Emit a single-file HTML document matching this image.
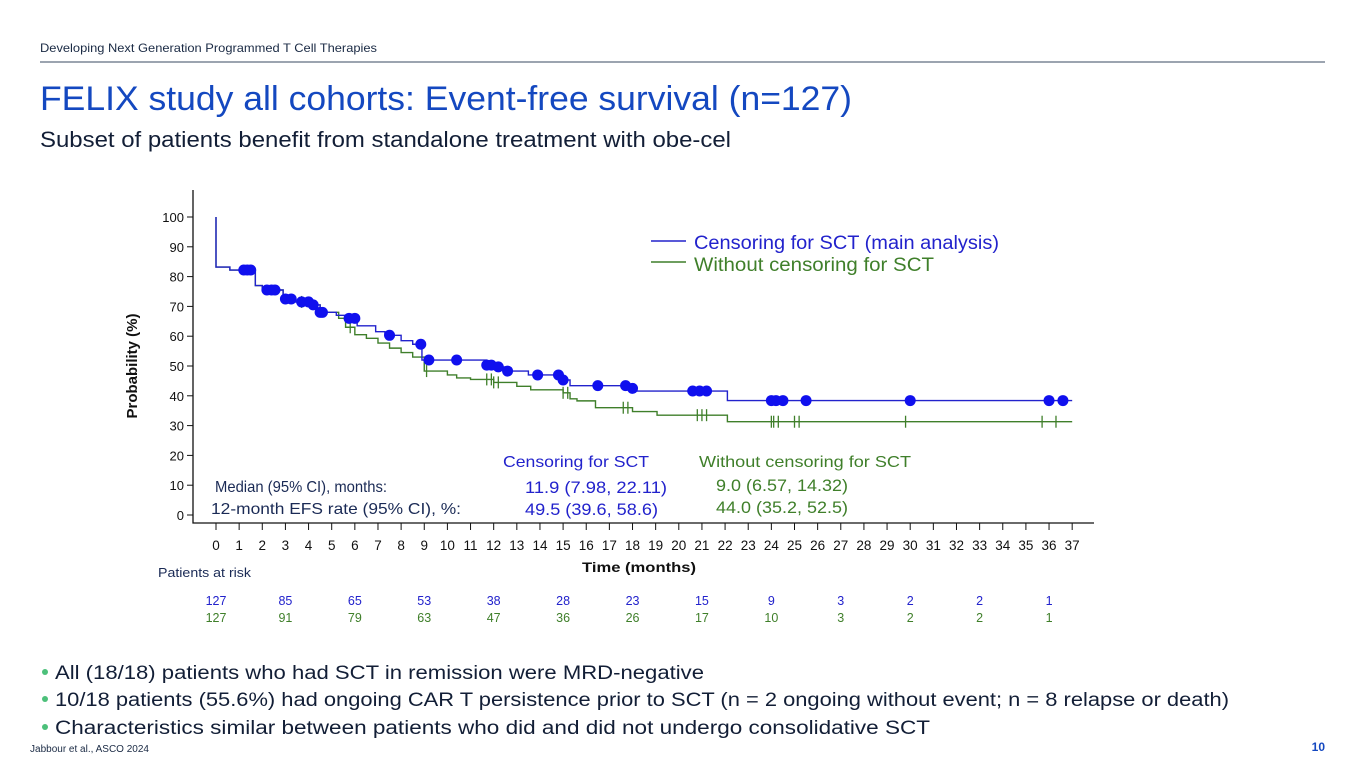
<!DOCTYPE html>
<html><head><meta charset="utf-8"><style>
html,body{margin:0;padding:0;background:#fff;}
svg{display:block;font-family:"Liberation Sans",sans-serif;}
</style></head><body>
<svg id="page" width="1365" height="768" viewBox="0 0 1365 768" xmlns="http://www.w3.org/2000/svg">
<text x="40" y="52" font-size="12" fill="#1a2a44" textLength="337" lengthAdjust="spacingAndGlyphs">Developing Next Generation Programmed T Cell Therapies</text>
<line x1="40" y1="62" x2="1325" y2="62" stroke="#3a4a60" stroke-width="1"/>
<text x="40" y="110" font-size="34" fill="#1448c0" textLength="812" lengthAdjust="spacingAndGlyphs">FELIX study all cohorts: Event-free survival (n=127)</text>
<text x="40" y="147" font-size="22" fill="#121e36" textLength="691" lengthAdjust="spacingAndGlyphs">Subset of patients benefit from standalone treatment with obe-cel</text>

<g id="chart"></g>

<text x="503" y="467" font-size="16" fill="#2222cc" textLength="146" lengthAdjust="spacingAndGlyphs">Censoring for SCT</text>
<text x="699" y="467" font-size="16" fill="#3f7f2a" textLength="212" lengthAdjust="spacingAndGlyphs">Without censoring for SCT</text>
<text x="215" y="492" font-size="16" fill="#1a2a55" textLength="172" lengthAdjust="spacingAndGlyphs">Median (95% CI), months:</text>
<text x="211" y="514" font-size="16" fill="#1a2a55" textLength="250" lengthAdjust="spacingAndGlyphs">12-month EFS rate (95% CI), %:</text>
<text x="525" y="493" font-size="17" fill="#2222cc" textLength="142" lengthAdjust="spacingAndGlyphs">11.9 (7.98, 22.11)</text>
<text x="525" y="515" font-size="17" fill="#2222cc" textLength="133" lengthAdjust="spacingAndGlyphs">49.5 (39.6, 58.6)</text>
<text x="716" y="491" font-size="17" fill="#3f7f2a" textLength="132" lengthAdjust="spacingAndGlyphs">9.0 (6.57, 14.32)</text>
<text x="716" y="513" font-size="17" fill="#3f7f2a" textLength="132" lengthAdjust="spacingAndGlyphs">44.0 (35.2, 52.5)</text>

<line x1="651" y1="241" x2="686" y2="241" stroke="#2222cc" stroke-width="1.5"/>
<text x="694" y="249" font-size="19" fill="#2222cc" textLength="305" lengthAdjust="spacingAndGlyphs">Censoring for SCT (main analysis)</text>
<line x1="651" y1="262" x2="686" y2="262" stroke="#3f7f2a" stroke-width="1.5"/>
<text x="694" y="271" font-size="19" fill="#3f7f2a" textLength="240" lengthAdjust="spacingAndGlyphs">Without censoring for SCT</text>

<text x="582" y="572" font-size="14" font-weight="bold" fill="#111" textLength="114" lengthAdjust="spacingAndGlyphs">Time (months)</text>
<text transform="translate(137,366) rotate(-90)" text-anchor="middle" font-size="15" font-weight="bold" fill="#111">Probability (%)</text>
<text x="158" y="577" font-size="12.5" fill="#1a2a55" textLength="93" lengthAdjust="spacingAndGlyphs">Patients at risk</text>

<g fill="#4cc07a">
<circle cx="45" cy="672" r="3"/><circle cx="45" cy="699" r="3"/><circle cx="45" cy="727" r="3"/></g>
<text x="55" y="679" font-size="19" fill="#121e36" textLength="649" lengthAdjust="spacingAndGlyphs">All (18/18) patients who had SCT in remission were MRD-negative</text>
<text x="55" y="706" font-size="19" fill="#121e36" textLength="1174" lengthAdjust="spacingAndGlyphs">10/18 patients (55.6%) had ongoing CAR T persistence prior to SCT (n = 2 ongoing without event; n = 8 relapse or death)</text>
<text x="55" y="734" font-size="19" fill="#121e36" textLength="875" lengthAdjust="spacingAndGlyphs">Characteristics similar between patients who did and did not undergo consolidative SCT</text>
<text x="30" y="752" font-size="10" fill="#1a2a44" textLength="119" lengthAdjust="spacingAndGlyphs">Jabbour et al., ASCO 2024</text>
<text x="1325" y="751" font-size="12" font-weight="bold" fill="#1448c0" text-anchor="end">10</text>
</svg>
<script>
const blueT=[0,0,0.6,1.7,2.0,2.9,3.3,4.2,4.5,5.2,5.6,6.1,6.9,7.3,8.0,8.5,8.9,11.7,12.0,12.5,13.5,15.0,15.3,17.8,18.1,22.1,37];
const blueS=[100,83.2,82.2,77,75.5,72.5,71.5,70.5,68,67,66,63.5,61.5,60.3,58.5,57.3,52,50.3,49.7,48.3,47,45.3,43.4,42.5,41.6,38.4,38.4];
const blueCens=[1.2,1.35,1.5,2.2,2.4,2.55,3.0,3.25,3.7,4.0,4.2,4.5,4.6,5.75,6.0,7.5,8.85,9.2,10.4,11.7,11.9,12.2,12.6,13.9,14.8,15.0,16.5,17.7,18.0,20.6,20.9,21.2,24.0,24.2,24.5,25.5,30.0,36.0,36.6];
const greenT=[0,0,0.6,1.7,2.0,2.9,3.3,4.2,4.5,5.3,5.6,6.0,6.5,7.0,7.5,8.0,8.5,9.0,10.0,10.4,11.0,12.0,13.0,13.6,15.0,15.3,15.6,16.4,18.0,19.06,22.1,37];
const greenS=[100,83.2,82.2,77,75.5,72.5,71.5,70.5,68,66,63,60.5,59.3,57.7,56,54.5,53,48.3,47,46,45.5,44.5,43.2,42,41,39,38.3,36,34.7,33.5,31.3,31.3];
const greenCens=[3.7,5.8,9.1,11.7,11.9,12.0,12.2,15.0,15.2,17.6,17.8,20.8,21.0,21.2,24.0,24.1,24.3,25.0,25.2,29.8,35.7,36.3];
const yTicks=[0,10,20,30,40,50,60,70,80,90,100];
const xTicks=Array.from({length:38},(_,i)=>i);
const riskT=[0,3,6,9,12,15,18,21,24,27,30,33,36];
const riskBlue=[127,85,65,53,38,28,23,15,9,3,2,2,1];
const riskGreen=[127,91,79,63,47,36,26,17,10,3,2,2,1];

const NS="http://www.w3.org/2000/svg";
const X=t=>216+t*23.14;
const Y=p=>515-p*2.98;
const g=document.getElementById('chart');
function mk(tag,attrs,parent){const e=document.createElementNS(NS,tag);for(const k in attrs)e.setAttribute(k,attrs[k]);(parent||g).appendChild(e);return e;}

let ax=mk('path',{d:'M193 190 V523 H1094',stroke:'#111',fill:'none','stroke-width':1.3});


yTicks.forEach(v=>{
  let l=mk('line',{x1:187,x2:193,y1:Y(v),y2:Y(v),stroke:'#111'});
  
  
  let t=mk('text',{x:184,y:Y(v)+5,'text-anchor':'end','font-size':13,fill:'#111'});
  t.textContent=v;
  
  
});
xTicks.forEach(v=>{
  let l=mk('line',{x1:X(v),x2:X(v),y1:523,y2:530,stroke:'#111'});
  
  
  let t=mk('text',{x:X(v),y:550,'text-anchor':'middle','font-size':13.5,fill:'#111'});
  t.textContent=v;
  
  
});
function stepPath(T,S){let d='M'+X(T[0])+' '+Y(S[0]);for(let i=1;i<T.length;i++){d+=' H'+X(T[i])+' V'+Y(S[i]);}return d;}
function sAt(T,S,t){let s=S[0];for(let i=0;i<T.length;i++){if(T[i]<=t)s=S[i];}return s;}
let gp=mk('path',{d:stepPath(greenT,greenS),stroke:'#3f7f2a',fill:'none','stroke-width':1.4});


greenCens.forEach(t=>{
  let l=mk('line',{x1:X(t),x2:X(t),y1:Y(sAt(greenT,greenS,t))-6,y2:Y(sAt(greenT,greenS,t))+6,stroke:'#3f7f2a','stroke-width':1.3});
  
  
});
let bp=mk('path',{d:stepPath(blueT,blueS),stroke:'#2222cc',fill:'none','stroke-width':1.4});


blueCens.forEach(t=>{
  let c=mk('circle',{cx:X(t),cy:Y(sAt(blueT,blueS,t)),r:5.5,fill:'#1010ee'});
  
  
});
riskT.forEach((t,i)=>{
  let a=mk('text',{x:X(t),y:605,'text-anchor':'middle','font-size':12.5,fill:'#2222cc'});
  a.textContent=riskBlue[i];
  
  
  let b=mk('text',{x:X(t),y:622,'text-anchor':'middle','font-size':12.5,fill:'#3f7f2a'});
  b.textContent=riskGreen[i];
  
  
});
</script>
</body></html>
